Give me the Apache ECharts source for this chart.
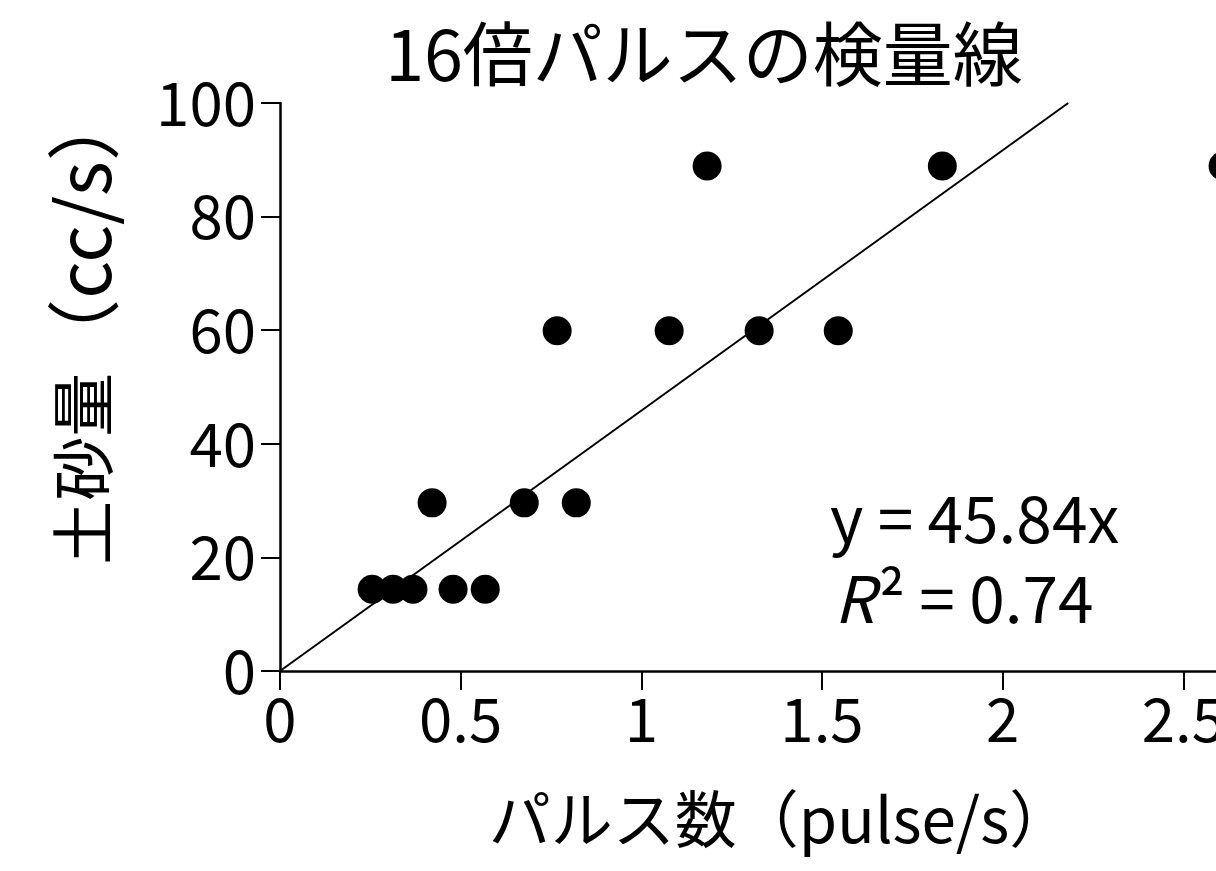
<!DOCTYPE html>
<html>
<head>
<meta charset="utf-8">
<title>16倍パルスの検量線</title>
<script src="https://cdn.jsdelivr.net/npm/echarts@6/dist/echarts.min.js"></script>
<style>
  html, body { margin: 0; padding: 0; background: #fff; }
  #chart { width: 1216px; height: 871px; }
</style>
</head>
<body>
<div id="chart"></div>
<script>
// pulse/s readings and matching sediment rate (cc/s)
const pulseRate = [0.255, 0.313, 0.368, 0.479, 0.568, 0.421, 0.676, 0.820, 0.767, 1.077, 1.326, 1.545, 1.182, 1.833, 2.61];
const sediment  = [14.4, 14.4, 14.4, 14.4, 14.4, 29.6, 29.6, 29.6, 59.9, 59.9, 59.9, 59.9, 88.9, 88.9, 88.9];

// fitted line y = 45.84x, drawn from origin to y = 100
const slope = 45.84;
const fitX = [0, 100 / slope];

const xTicks = [0, 0.5, 1, 1.5, 2, 2.5, 3];
const yTicks = [0, 20, 40, 60, 80, 100];

const FONT = 'Noto Sans CJK JP';

const chart = echarts.init(document.getElementById('chart'));

const option = {
    backgroundColor: '#ffffff',
    animation: false,
    textStyle: { fontFamily: FONT, color: '#000' },
    title: {
        text: '16倍パルスの検量線',
        left: 699,
        top: 14,
        textAlign: 'center',
        textStyle: { fontFamily: FONT, fontSize: 70, fontWeight: 'normal', color: '#000' }
    },
    grid: {
        left: 280,
        top: 103,
        width: 1084,   // axis runs past the right edge, as in the original
        height: 568,
        outerBoundsMode: 'none'
    },
    xAxis: {
        type: 'value',
        min: xTicks[0],
        max: xTicks[xTicks.length - 1],
        interval: 0.5,
        name: 'パルス数（pulse/s）',
        nameLocation: 'middle',
        nameGap: 117,
        nameTextStyle: { fontFamily: FONT, fontSize: 62, color: '#000', padding: [0, 84, 0, 0] },
        axisLine: { lineStyle: { color: '#000', width: 2.5 } },
        axisTick: { show: true, length: 19, lineStyle: { color: '#000', width: 2 } },
        axisLabel: { margin: 18, fontSize: 60, fontFamily: FONT, color: '#000' },
        splitLine: { show: false }
    },
    yAxis: {
        type: 'value',
        min: yTicks[0],
        max: yTicks[yTicks.length - 1],
        interval: 20,
        name: '土砂量{l|（cc/s）}',
        nameLocation: 'middle',
        nameGap: 160,
        nameRotate: 90,
        nameTextStyle: {
            fontFamily: FONT, fontSize: 64, color: '#000',
            padding: [0, 0, 0, 122],
            rich: { l: { fontFamily: FONT, fontSize: 74, color: '#000' } }
        },
        axisLine: { show: true, lineStyle: { color: '#000', width: 2.5 } },
        axisTick: { show: true, length: 19, lineStyle: { color: '#000', width: 2 } },
        axisLabel: { margin: 24, fontSize: 60, fontFamily: FONT, color: '#000' },
        splitLine: { show: false }
    },
    graphic: [
        {
            type: 'text',
            left: 830,
            top: 487,
            style: { text: 'y = 45.84x', font: '64px "' + FONT + '"', fill: '#000' }
        },
        {
            type: 'text',
            left: 834,
            top: 567,
            style: {
                text: '{i|R}{s|²} = 0.74',
                font: '64px "' + FONT + '"',
                fill: '#000',
                rich: {
                    i: { fontStyle: 'italic', fontSize: 64, fontFamily: FONT },
                    s: { fontSize: 64, fontFamily: FONT, padding: [0, 0, 0, 4] }
                }
            }
        }
    ],
    series: [
        {
            type: 'line',
            data: fitX.map(x => [x, slope * x]),
            symbol: 'none',
            lineStyle: { color: '#000', width: 2 },
            silent: true,
            z: 1
        },
        {
            type: 'scatter',
            data: pulseRate.map((x, i) => [x, sediment[i]]),
            symbol: 'circle',
            symbolSize: 29,
            itemStyle: { color: '#000', opacity: 1 },
            z: 2
        }
    ]
};

chart.setOption(option);
</script>
</body>
</html>
